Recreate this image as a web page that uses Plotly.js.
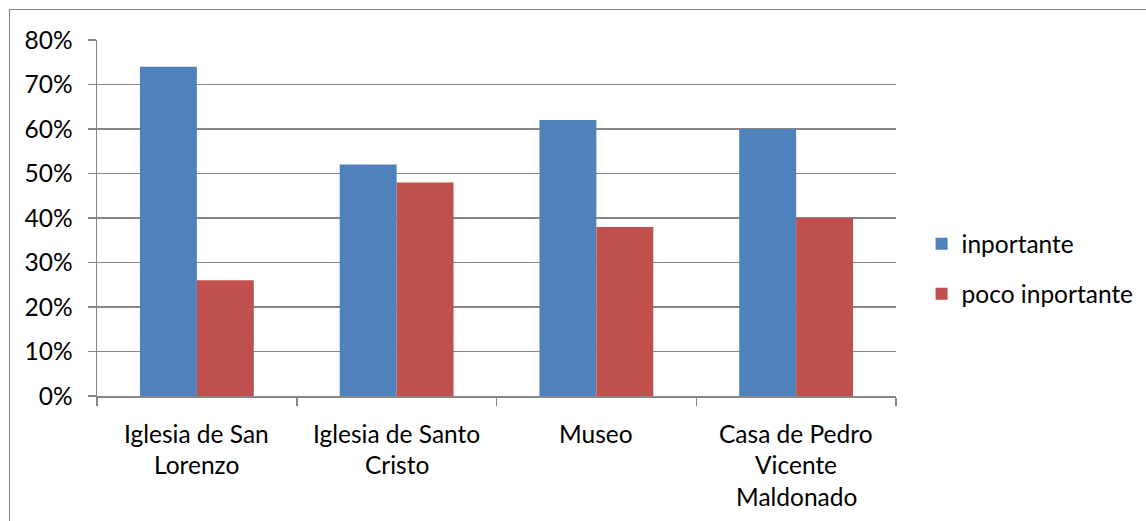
<!DOCTYPE html>
<html>
<head>
<meta charset="utf-8">
<script src="https://cdn.plot.ly/plotly-3.0.1.min.js"></script>
<style>
  html, body { margin: 0; padding: 0; background: #fff; }
  #wrap { position: relative; width: 1146px; height: 521px; overflow: hidden; }
  #chart { width: 1146px; height: 521px; }
  #frame { position: absolute; left: 9px; top: 9px; width: 1200px; height: 600px;
           border: 1px solid #868686; pointer-events: none; }
</style>
</head>
<body>
<div id="wrap"><div id="chart"></div><div id="frame"></div></div>
<script>
const categories = ["Iglesia de San Lorenzo", "Iglesia de Santo Cristo", "Museo", "Casa de Pedro Vicente Maldonado"];
const categoryLabelLines = [
  ["Iglesia de San", "Lorenzo"],
  ["Iglesia de Santo", "Cristo"],
  ["Museo"],
  ["Casa de Pedro", "Vicente", "Maldonado"]
];
const seriesNames = ["inportante", "poco inportante"];
const importante = [0.74, 0.52, 0.62, 0.60];
const pocoImportante = [0.26, 0.48, 0.38, 0.40];
const yTickValues = [0, 0.1, 0.2, 0.3, 0.4, 0.5, 0.6, 0.7, 0.8];
const yTickLabels = ["0%", "10%", "20%", "30%", "40%", "50%", "60%", "70%", "80%"];

const FONT = "Lato, 'Open Sans', sans-serif";
const FS = 24.5;

const traces = [
  { type: "bar", name: seriesNames[0], x: categories, y: importante,
    marker: { color: "#4F81BD" }, legendgroup: "a", hoverinfo: "none" },
  { type: "bar", name: seriesNames[1], x: categories, y: pocoImportante,
    marker: { color: "#C0504D" }, legendgroup: "b", hoverinfo: "none" }
];

const annotations = [];
categoryLabelLines.forEach((lines, ci) => {
  lines.forEach((line, li) => {
    annotations.push({
      x: categories[ci], y: 0, xref: "x", yref: "y",
      text: line, showarrow: false,
      xanchor: "center", yanchor: "middle",
      yshift: -(37 + li * 31.5),
      font: { family: FONT, size: FS, color: "#000" }
    });
  });
});

const layout = {
  width: 1146, height: 521,
  margin: { l: 97, r: 250, t: 40, b: 125, autoexpand: false },
  paper_bgcolor: "#fff", plot_bgcolor: "#fff",
  font: { family: FONT, size: FS, color: "#000" },
  barmode: "group",
  bargap: 0.43, bargroupgap: 0,
  showlegend: true,
  legend: {
    x: 1.032, xanchor: "left", y: 0.357, yanchor: "middle",
    traceorder: "grouped", tracegroupgap: 15,
    font: { family: FONT, size: FS, color: "#000" },
    bgcolor: "rgba(0,0,0,0)"
  },
  xaxis: {
    type: "category",
    showticklabels: false,
    ticks: "outside", ticklen: 8, tickwidth: 1.5, tickcolor: "#868686",
    tickson: "boundaries",
    showline: true, linecolor: "#868686", linewidth: 1.5,
    showgrid: false, zeroline: false, fixedrange: true
  },
  yaxis: {
    range: [0, 0.8],
    tickvals: yTickValues, ticktext: yTickLabels,
    ticks: "outside", ticklen: 8, tickwidth: 1.5, tickcolor: "#868686",
    ticklabelstandoff: 10,
    showline: true, linecolor: "#868686", linewidth: 1.5,
    showgrid: true, gridcolor: "#868686", gridwidth: 1.5,
    zeroline: false, fixedrange: true,
    tickfont: { family: FONT, size: FS, color: "#000" }
  },
  annotations: annotations
};

Plotly.newPlot("chart", traces, layout, { displayModeBar: false, staticPlot: true });
</script>
</body>
</html>
